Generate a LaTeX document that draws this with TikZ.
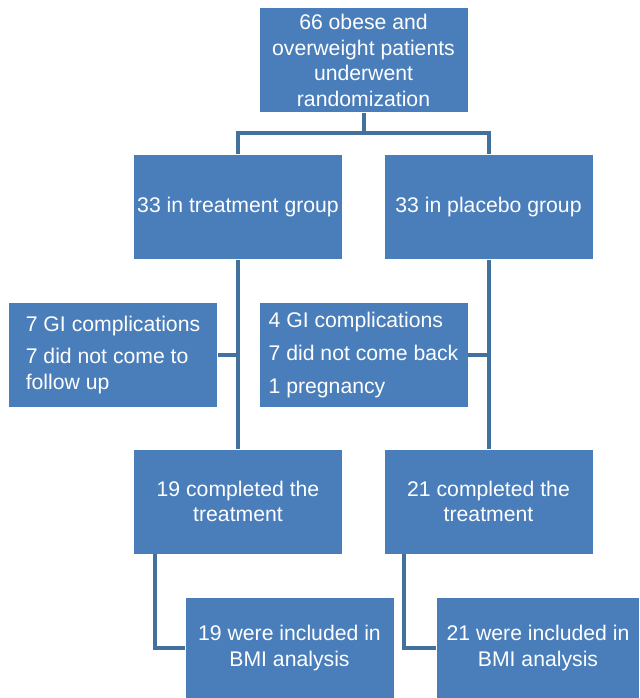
\documentclass[tikz,border=0pt]{standalone}
\usepackage{fontspec}
\setmainfont{Liberation Sans}
\definecolor{boxblue}{HTML}{4A7EBB}
\definecolor{linkblue}{HTML}{41719C}

\tikzset{every picture/.style={line width=0.75pt}}
\tikzset{
  flowbox/.style={rectangle, fill=boxblue, text=white, inner sep=0pt,
    minimum width=156pt, minimum height=78pt, align=center,
    font=\fontsize{15.9}{19.2}\selectfont},
  lossbox/.style={flowbox, align=left},
  link/.style={draw=linkblue, line width=3pt}
}

\begin{document}
\begin{tikzpicture}[x=0.75pt,y=0.75pt,yscale=-1,xscale=1]
	\useasboundingbox (0,0) rectangle (639,698);

	% Boxes
	\node [flowbox] (top) at (363.5,60.5) {66 obese and\\overweight patients\\underwent\\randomization};
	\node [flowbox] (treat) at (238,207) {33 in treatment group};
	\node [flowbox] (plac) at (488.5,207) {33 in placebo group};
	\node [lossbox] (treatout) at (113,355) {7 GI complications\\[5pt]7 did not come to\\follow up};
	\node [lossbox] (placout) at (363.5,355) {4 GI complications\\[5.5pt]7 did not come back\\[5.5pt]1 pregnancy};
	\node [flowbox] (treatdone) at (238,501.5) {19 completed the\\treatment};
	\node [flowbox] (placdone) at (488.5,501.5) {21 completed the\\treatment};
	\node [flowbox, minimum height=75pt] (treatbmi) at (289.5,648) {19 were included in\\BMI analysis};
	\node [flowbox, minimum height=75pt, minimum width=152pt] (placbmi) at (538,648) {21 were included in\\BMI analysis};

	% Connectors
	\draw [link] (top.south) -- ++(0,20) -| (treat.north);
	\draw [link] (top.south) -- ++(0,20) -| (plac.north);
	\draw [link] (treat.south) -- (treatdone.north);
	\draw [link] (plac.south) -- (placdone.north);
	\draw [link] (treatout.east) -- (treat.south |- treatout.east);
	\draw [link] (placout.east) -- (plac.south |- placout.east);
	\draw [link] ([xshift=15.75pt]treatdone.south west) |- (treatbmi.west);
	\draw [link] ([xshift=15pt]placdone.south west) |- (placbmi.west);

\end{tikzpicture}
\end{document}
